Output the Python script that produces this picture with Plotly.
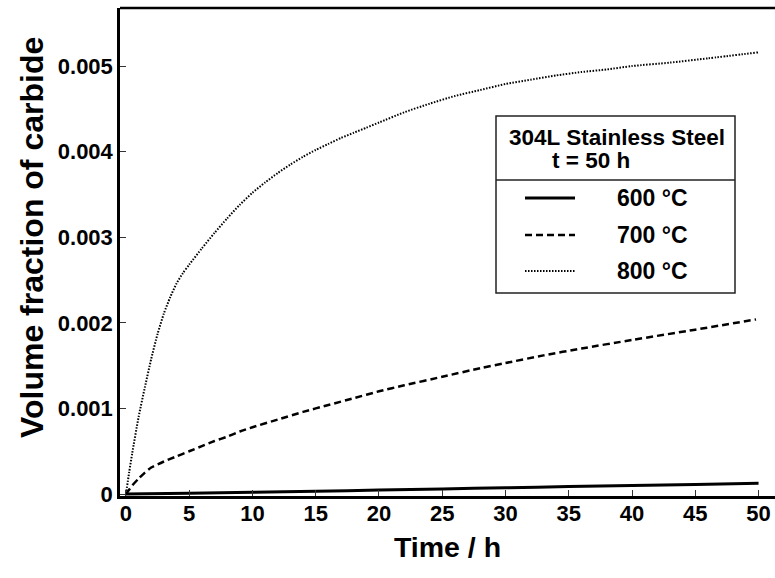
import plotly.graph_objects as go

# ---- data ----
t_600 = [0, 5, 10, 15, 20, 25, 30, 35, 40, 45, 50]
v_600 = [0, 0.000008, 0.00002, 0.000033, 0.000046, 0.00006, 0.000073, 0.000087, 0.0001, 0.000112, 0.000125]

t_700 = [0, 0.25, 0.5, 1, 1.5, 2, 3, 4, 5, 6, 7, 8, 9, 10, 12, 14, 16, 18, 20, 22, 25, 28, 30,
         33, 36, 40, 45, 49.8]
v_700 = [0, 0.00005, 0.0001, 0.00018, 0.00025, 0.00031, 0.00038, 0.00044, 0.0005, 0.00056, 0.00062,
         0.00067, 0.00073, 0.00078, 0.00087, 0.00096, 0.00104, 0.00112, 0.0012, 0.00127, 0.00137,
         0.00147, 0.00153, 0.00162, 0.0017, 0.0018, 0.00192, 0.00204]

t_800 = [0, 0.25, 0.5, 1, 1.5, 2, 2.5, 3, 3.5, 4, 4.5, 5, 6, 7, 8, 9, 10, 11, 12, 13, 14, 15, 16,
         17, 18, 19, 20, 22, 24, 26, 28, 30, 32, 34, 36, 38, 40, 43, 46, 50]
v_800 = [0, 0.00025, 0.00048, 0.0009, 0.00125, 0.00158, 0.00187, 0.00211, 0.0023, 0.00246, 0.00258,
         0.00268, 0.00287, 0.00305, 0.00322, 0.00338, 0.00352, 0.00364, 0.00375, 0.00385, 0.00394,
         0.00402, 0.00409, 0.00416, 0.00422, 0.00428, 0.00434, 0.00446, 0.00456, 0.00465, 0.00472,
         0.00479, 0.00484, 0.00489, 0.00493, 0.00496, 0.005, 0.00504, 0.00509, 0.00516]

series_names = ["600 °C", "700 °C", "800 °C"]
x_ticks = [0, 5, 10, 15, 20, 25, 30, 35, 40, 45, 50]
y_ticks = [0, 0.001, 0.002, 0.003, 0.004, 0.005]
y_tick_text = ["0", "0.001", "0.002", "0.003", "0.004", "0.005"]
legend_title = ["304L Stainless Steel", "t = 50 h"]
x_title = "Time / h"
y_title = "Volume fraction of carbide"

# ---- style ----
W, H = 775, 578
ML, MR, MT, MB = 120, 0, 8, 82
FONT = "Liberation Sans, Arial, sans-serif"
styles = [dict(width=3, dash="solid"), dict(width=2.5, dash="7px,4px"), dict(width=2, dash="1.5px,1.5px")]

fig = go.Figure()
for t, v, name, st in zip([t_600, t_700, t_800], [v_600, v_700, v_800], series_names, styles):
    fig.add_trace(go.Scatter(x=t, y=v, mode="lines", name=name, showlegend=False,
                             line=dict(color="black", width=st["width"], dash=st["dash"], shape="spline",
                                       smoothing=0.6)))

def px(xp):
    return (xp - ML) / (W - ML - MR)

def py(yp):
    return (H - MB - yp) / (H - MT - MB)

shapes = []
annotations = []
# top border
shapes.append(dict(type="line", xref="paper", yref="paper", x0=0, x1=1, y0=1, y1=1,
                   line=dict(color="black", width=2.5)))
# legend box
bx0, bx1, by0, by1, bdiv = 496, 735, 116, 293, 180
shapes.append(dict(type="rect", xref="paper", yref="paper", x0=px(bx0), x1=px(bx1), y0=py(by1), y1=py(by0),
                   line=dict(color="#222", width=1.5), fillcolor="white", layer="above"))
shapes.append(dict(type="line", xref="paper", yref="paper", x0=px(bx0), x1=px(bx1), y0=py(bdiv), y1=py(bdiv),
                   line=dict(color="#222", width=1.5), layer="above"))
annotations.append(dict(xref="paper", yref="paper", x=px(617), y=py(137), text="<b>" + legend_title[0] + "</b>",
                        showarrow=False, xanchor="center", yanchor="middle",
                        font=dict(family=FONT, size=22.5, color="black")))
annotations.append(dict(xref="paper", yref="paper", x=px(591), y=py(160), text="<b>" + legend_title[1] + "</b>",
                        showarrow=False, xanchor="center", yanchor="middle",
                        font=dict(family=FONT, size=22.5, color="black")))
row_y = [198, 235, 271]
for name, st, ry in zip(series_names, styles, row_y):
    shapes.append(dict(type="line", xref="paper", yref="paper", x0=px(525), x1=px(575), y0=py(ry), y1=py(ry),
                       line=dict(color="black", width=st["width"], dash=st["dash"]), layer="above"))
    annotations.append(dict(xref="paper", yref="paper", x=px(615), y=py(ry), text="<b>" + name + "</b>",
                            showarrow=False, xanchor="left", yanchor="middle",
                            font=dict(family=FONT, size=23, color="black")))
# y-axis title (placed as rotated annotation to match the reference's vertical centring)
annotations.append(dict(xref="paper", yref="paper", x=px(32), y=py(238), text="<b>" + y_title + "</b>",
                        textangle=-90, showarrow=False, xanchor="center", yanchor="middle",
                        font=dict(family=FONT, size=32, color="black")))

fig.update_layout(
    width=W, height=H,
    margin=dict(l=ML, r=MR, t=MT, b=MB, pad=0),
    paper_bgcolor="white", plot_bgcolor="white",
    shapes=shapes, annotations=annotations,
    font=dict(family=FONT, color="black"),
    xaxis=dict(range=[-0.47, 51.3], tickvals=x_ticks, ticktext=["<b>%d</b>" % v for v in x_ticks],
               ticks="inside", ticklen=6, tickwidth=1.2, ticklabelstandoff=-4,
               tickcolor="#333", showline=True, linecolor="black", linewidth=2.5, showgrid=False,
               zeroline=False, tickfont=dict(family=FONT, size=22, color="black"),
               title=dict(text="<b>" + x_title + "</b>", font=dict(family=FONT, size=28.5, color="black"),
                          standoff=12)),
    yaxis=dict(range=[-0.000023, 0.005678], tickvals=y_ticks, ticktext=["<b>%s</b>" % s for s in y_tick_text],
               ticks="inside", ticklen=6, tickwidth=1.2, tickcolor="#333",
               showline=True, linecolor="black", linewidth=2.5, showgrid=False, zeroline=False,
               tickfont=dict(family=FONT, size=22, color="black")),
)
fig.write_html("out.html")
